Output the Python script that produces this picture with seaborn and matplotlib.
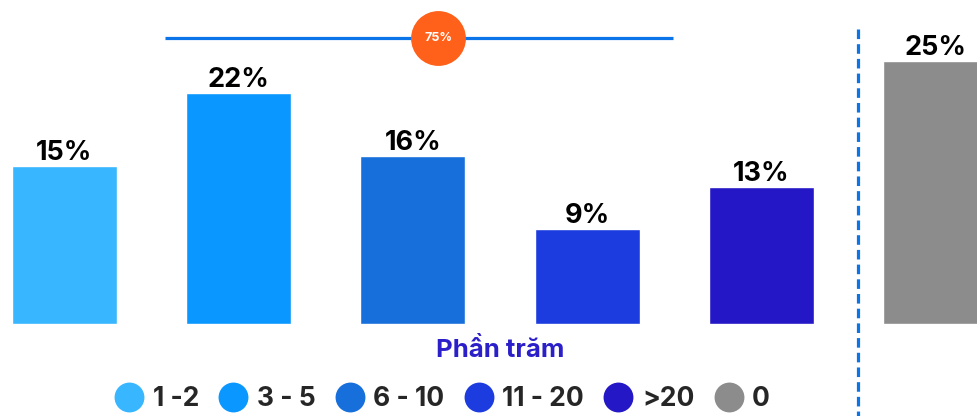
import matplotlib
matplotlib.use("Agg")
import matplotlib.pyplot as plt
import seaborn as sns
from matplotlib.lines import Line2D

categories = ["1 -2", "3 - 5", "6 - 10", "11 - 20", ">20", "0"]
values = [15, 22, 16, 9, 13, 25]
value_labels = ["15%", "22%", "16%", "9%", "13%", "25%"]
colors = ["#38b6ff", "#0a97ff", "#176fdc", "#1c3ce0", "#2417c6", "#8c8c8c"]
total_label = "75%"
xlabel = "Phần trăm"

sns.set_theme(style="white")
plt.rcParams["font.family"] = ["Inter", "DejaVu Sans"]

fig = plt.figure(figsize=(9.78, 4.16), dpi=100)
ax = fig.add_axes([0, 0, 1, 1])

sns.barplot(x=categories, y=values, hue=categories, palette=colors,
            order=categories, hue_order=categories, legend=False,
            width=0.602, saturation=1, ax=ax)

ax.set_xlim(-0.368, 5.242)
ax.set_ylim(-8.76, 30.8)
ax.axis("off")

for i, (v, lab) in enumerate(zip(values, value_labels)):
    ax.annotate(lab, (i, v), xytext=(0, 0), textcoords="offset points",
                ha="center", va="bottom", fontsize=19.5, fontweight="bold",
                color="black")

# bracket line over the first five categories with total
ax.plot([0.58, 3.49], [27.2, 27.2], color="#0a74e8", lw=2.3,
        solid_capstyle="butt", zorder=3)
ax.scatter([2.145], [27.2], s=1560, color="#ff611a", zorder=4, linewidths=0)
ax.text(2.145, 27.2, total_label, ha="center", va="center", fontsize=9,
        fontweight="bold", color="white", zorder=5)

# dashed separator
ax.plot([4.555, 4.555], [28.0, -8.76], color="#0a74e8", lw=2.3,
        linestyle=(0, (3.0, 1.6)), zorder=3)

fig.text(500 / 978, 1 - 350 / 416, xlabel, ha="center", va="center",
         fontsize=18.5, fontweight="bold", color="#2a1fc8")

handles = [Line2D([0], [0], marker="o", linestyle="none", markersize=21.5,
                  markerfacecolor=c, markeredgewidth=0) for c in colors]
fig.legend(handles, categories, loc="center", bbox_to_anchor=(442 / 978, 1 - 399 / 416),
           ncol=6, frameon=False, handlelength=1.15, handletextpad=0.32,
           columnspacing=0.72, prop={"size": 19, "weight": "bold"},
           borderpad=0, borderaxespad=0)

fig.savefig("out.png", dpi=100)
